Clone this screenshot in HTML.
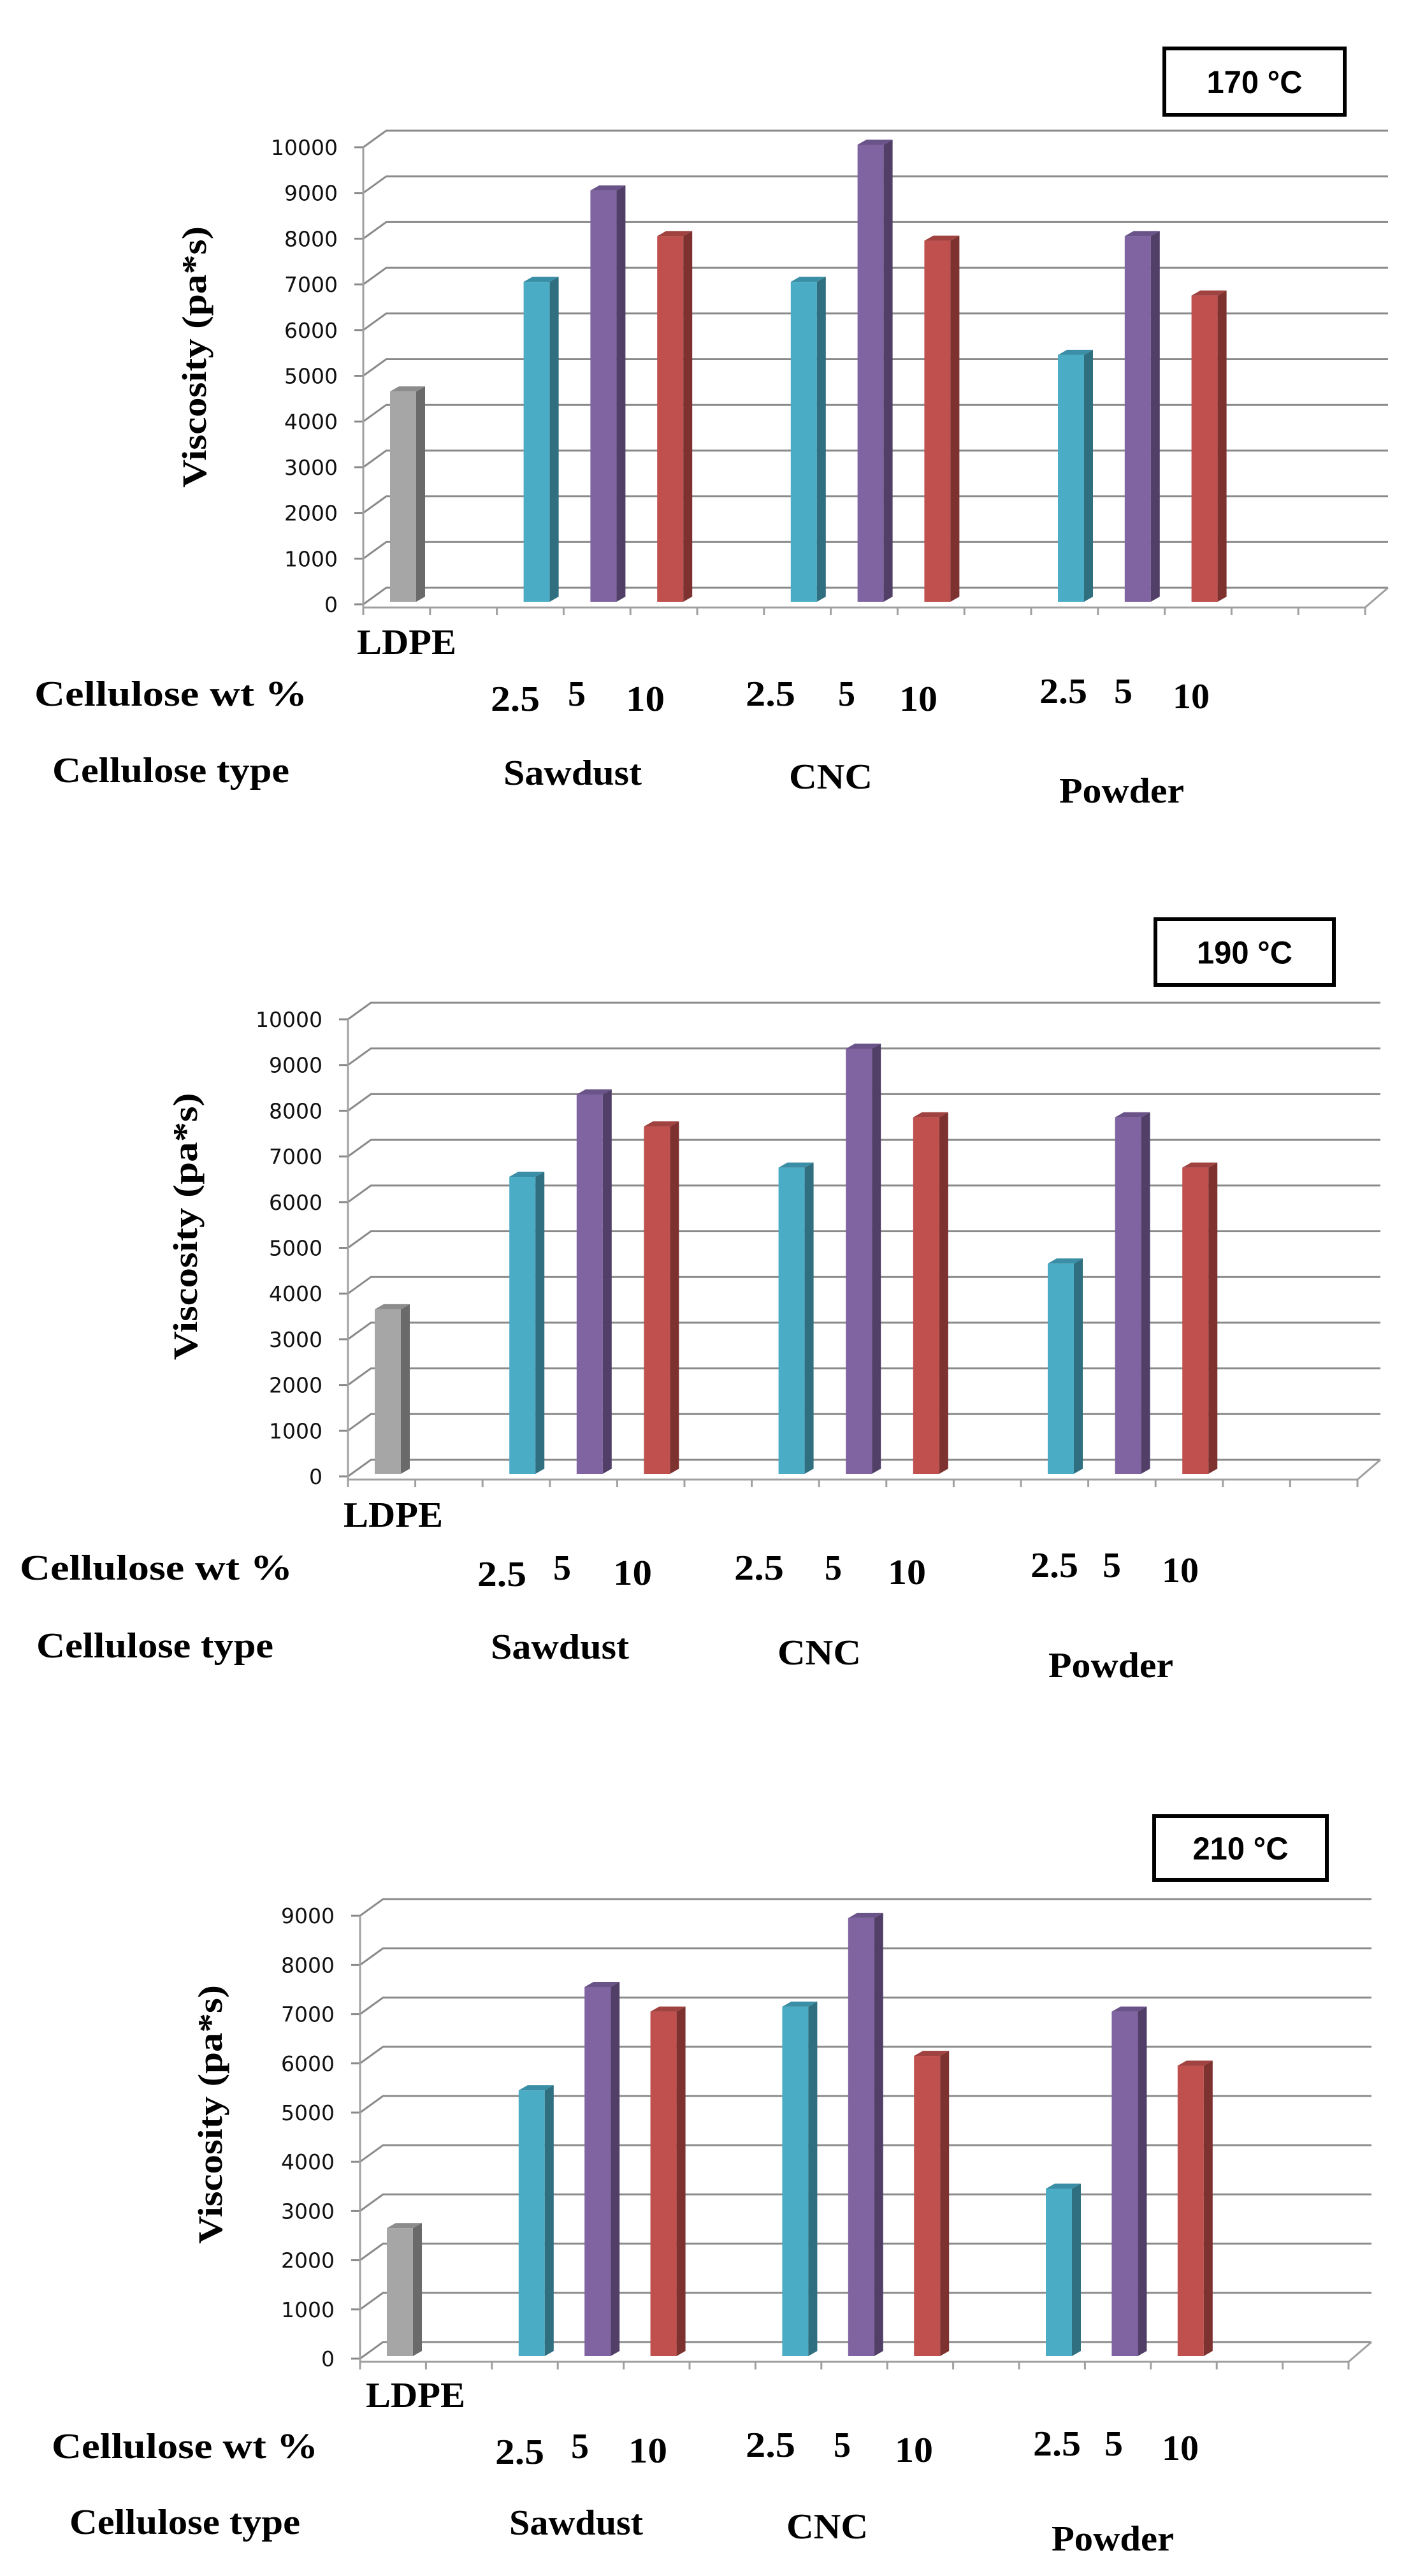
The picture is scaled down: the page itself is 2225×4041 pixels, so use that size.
<!DOCTYPE html>
<html><head><meta charset="utf-8"><style>
html,body{margin:0;padding:0;background:#fff;}
svg{display:block;}
.lbl{font-family:"Liberation Serif",serif;font-weight:bold;fill:#000;}
.tick{font-family:"DejaVu Sans","Liberation Sans",sans-serif;font-size:33px;fill:#111;}
.ttl{font-family:"Liberation Sans",sans-serif;font-weight:bold;fill:#000;}
</style></head><body>
<svg id="page" width="2225" height="4041" viewBox="0 0 2225 4041" xmlns="http://www.w3.org/2000/svg"></svg>
<script>
// ---- data ----
const categories = ["LDPE","Sawdust 2.5","Sawdust 5","Sawdust 10","CNC 2.5","CNC 5","CNC 10","Powder 2.5","Powder 5","Powder 10"];
const categorySlots = [0,2,3,4,6,7,8,10,11,12];
const categoryColors = ["gray","cyan","purple","red","cyan","purple","red","cyan","purple","red"];
const values170 = [4600,7000,9000,8000,7000,10000,7900,5400,8000,6700];
const values190 = [3600,6500,8300,7600,6700,9300,7800,4600,7800,6700];
const values210 = [2600,5400,7500,7000,7100,8900,6100,3400,7000,5900];
const ticks170 = [0,1000,2000,3000,4000,5000,6000,7000,8000,9000,10000];
const ticks190 = [0,1000,2000,3000,4000,5000,6000,7000,8000,9000,10000];
const ticks210 = [0,1000,2000,3000,4000,5000,6000,7000,8000,9000];
const titles = ["170 °C","190 °C","210 °C"];

const NS="http://www.w3.org/2000/svg";
const svg=document.getElementById('page');
const pal={gray:["#a6a6a6","#6a6a6a","#8c8c8c"],cyan:["#4bacc6","#2f6f80","#3a8ea5"],purple:["#8064a2","#513f68","#6a5388"],red:["#c0504d","#7d3230","#a04240"]};
function mk(tag,attrs,parent){const e=document.createElementNS(NS,tag);for(const k in attrs)e.setAttribute(k,attrs[k]);(parent||svg).appendChild(e);return e;}
function txt(parent,x,y,s,cls,size,len,extra){const t=mk('text',Object.assign({x:x,y:y,class:cls,'font-size':size},extra||{}),parent);if(len){t.setAttribute('textLength',len);t.setAttribute('lengthAdjust','spacingAndGlyphs');}t.textContent=s;return t;}

function drawChart(idx,cfg,vals,ticks){
  const g=mk('g',{});
  
  
  const ox=cfg.ox,y0=cfg.y0,s=cfg.s,slot=cfg.slot,right=ox+slot*15,dx=36,dy=-26;
  const yScale=v=>y0-v*s;
  const grid=mk('g',{stroke:'#8a8a8a','stroke-width':3,fill:'none'},g);
  
  
  ticks.forEach(v=>{
    const y=yScale(v);
    mk('polyline',{points:`${ox},${y} ${ox+dx},${y+dy} ${right+dx},${y+dy}`},grid);
    mk('line',{x1:ox-14,y1:y,x2:ox,y2:y},grid);
    const t=txt(g,ox-40,y+12,String(v),'tick',33,null,{'text-anchor':'end'});
    
    
  });
  const ax=mk('g',{stroke:'#a0a0a0','stroke-width':3,fill:'none'},g);
  
  
  mk('line',{x1:ox,y1:yScale(ticks[ticks.length-1]),x2:ox,y2:y0+16},ax);
  mk('line',{x1:ox,y1:y0+5,x2:right,y2:y0+5},ax);
  mk('line',{x1:right,y1:y0+5,x2:right+dx,y2:y0+dy},ax);
  for(let i=0;i<=15;i++){mk('line',{x1:ox+i*slot,y1:y0+5,x2:ox+i*slot,y2:y0+17},ax);}
  vals.forEach((v,i)=>{
    const c=pal[categoryColors[i]];
    const x=ox+categorySlots[i]*slot+42,w=41,bd=14,bh=8,base=y0-4,top=base-v*s;
    const b=mk('g',{},g);
    
    
    mk('rect',{x:x,y:top,width:w,height:base-top,fill:c[0]},b);
    mk('polygon',{points:`${x+w},${top} ${x+w+bd},${top-bh} ${x+w+bd},${base-bh} ${x+w},${base}`,fill:c[1]},b);
    mk('polygon',{points:`${x},${top} ${x+bd},${top-bh} ${x+w+bd},${top-bh} ${x+w},${top}`,fill:c[2]},b);
  });
  const bx=cfg.box;
  const tb=mk('g',{},g);
  
  
  mk('rect',{x:bx[0]+3,y:bx[1]+3,width:bx[2]-6,height:bx[3]-6,fill:'#fff',stroke:'#000','stroke-width':6},tb);
  txt(tb,bx[0]+bx[2]/2,bx[1]+bx[3]/2+18,titles[idx],'ttl',50,150,{'text-anchor':'middle'});
  const yt=txt(g,0,0,'Viscosity (pa*s)','lbl',54,cfg.yt[2],{'text-anchor':'middle',transform:`translate(${cfg.yt[0]+18},${cfg.yt[1]}) rotate(-90)`});
  
  
  cfg.labels.forEach(L=>{
    const t=txt(g,L[1],L[2],L[0],'lbl',56,L[3]);
    
    
  });
}

drawChart(0,{ox:570,y0:948,s:0.0717,slot:104.8,box:[1824,73,289,110],yt:[305,560,410],
 labels:[["LDPE",560,1026,156],["Cellulose  wt  %",54,1107,428],["2.5",770,1115,77],["5",891,1107,28],["10",982,1115,61],
 ["2.5",1170,1107,78],["5",1315,1107,27],["10",1411,1115,60],["2.5",1631,1103,75],["5",1748,1103,29],["10",1840,1111,58],
 ["Cellulose type",82,1227,372],["Sawdust",790,1231,217],["CNC",1238,1237,131],["Powder",1662,1259,196]]},values170,ticks170);

drawChart(1,{ox:546,y0:2316,s:0.0717,slot:105.6,box:[1810,1439,286,109],yt:[291,1924,419],
 labels:[["LDPE",539,2395,156],["Cellulose  wt  %",31,2478,428],["2.5",749,2488,77],["5",868,2478,28],["10",962,2486,61],
 ["2.5",1152,2478,78],["5",1294,2478,27],["10",1393,2485,60],["2.5",1617,2474,75],["5",1730,2474,29],["10",1823,2482,58],
 ["Cellulose type",57,2600,372],["Sawdust",770,2602,217],["CNC",1220,2611,131],["Powder",1645,2631,196]]},values190,ticks190);

drawChart(2,{ox:565,y0:3700,s:0.0772,slot:103.4,box:[1808,2846,277,106],yt:[330,3317,406],
 labels:[["LDPE",574,3776,156],["Cellulose  wt  %",81,3856,418],["2.5",777,3865,77],["5",896,3856,28],["10",986,3863,61],
 ["2.5",1170,3854,78],["5",1308,3854,27],["10",1404,3862,60],["2.5",1621,3852,75],["5",1733,3852,29],["10",1823,3859,58],
 ["Cellulose type",109,3975,362],["Sawdust",799,3976,210],["CNC",1234,3982,128],["Powder",1650,4001,192]]},values210,ticks210);
</script>
</body></html>
